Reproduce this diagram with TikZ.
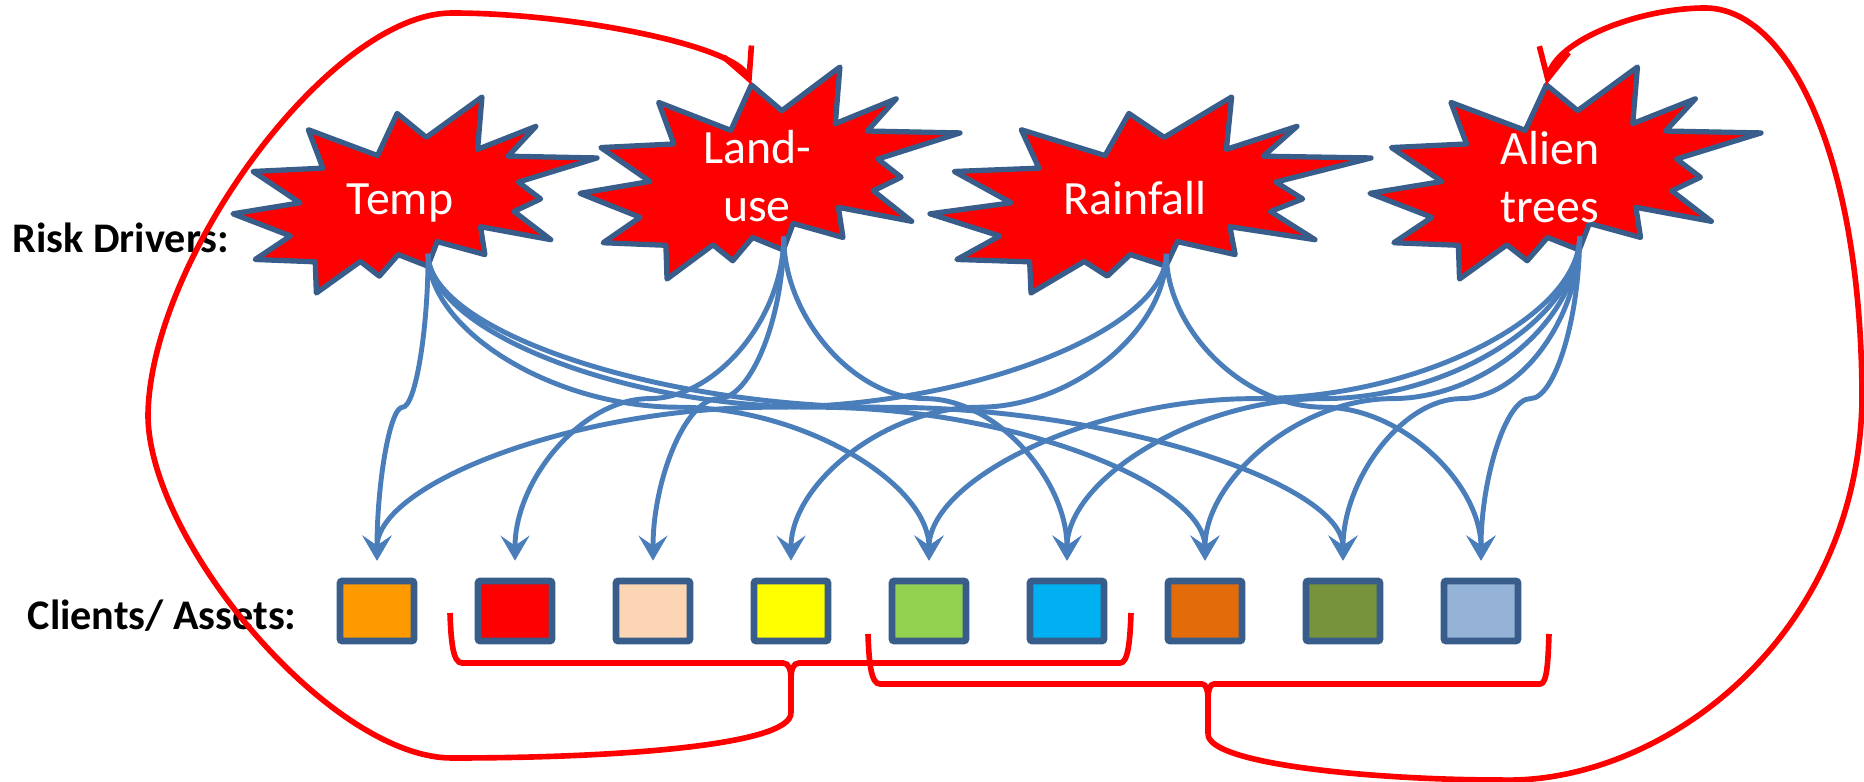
\documentclass[tikz,border=0pt]{standalone}
\usepackage{fontspec}
\setmainfont{Carlito}
\usepackage{xcolor}
\usepackage{tikz}
\usetikzlibrary{calc,arrows.meta}

\definecolor{linkblue}{HTML}{4A7EBB}
\definecolor{edgeblue}{HTML}{385D8A}
\definecolor{assetA}{HTML}{FF9900}
\definecolor{assetB}{HTML}{FF0000}
\definecolor{assetC}{HTML}{FCD5B5}
\definecolor{assetD}{HTML}{FFFF00}
\definecolor{assetE}{HTML}{92D050}
\definecolor{assetF}{HTML}{00B0F0}
\definecolor{assetG}{HTML}{E36C0A}
\definecolor{assetH}{HTML}{77933C}
\definecolor{assetI}{HTML}{95B3D7}

\tikzset{
  % explosion outline, unit box, origin at top left
  burst/.pic={
    \draw[burstline] (0.207,-0.167) -- (0.397,-0.299) -- (0.451,-0.084) -- (0.531,-0.206)
      -- (0.684,0) -- (0.672,-0.267) -- (0.832,-0.150) -- (0.756,-0.302)
      -- (1,-0.311) -- (0.784,-0.434) -- (0.845,-0.520) -- (0.772,-0.584)
      -- (0.873,-0.728) -- (0.680,-0.662) -- (0.692,-0.804) -- (0.561,-0.738)
      -- (0.535,-0.863) -- (0.454,-0.804) -- (0.402,-0.914) -- (0.350,-0.839)
      -- (0.229,-1) -- (0.226,-0.841) -- (0.061,-0.829) -- (0.158,-0.709)
      -- (0,-0.596) -- (0.184,-0.540) -- (0.055,-0.380) -- (0.247,-0.363) -- cycle;
    \coordinate (-out) at (0.536,-0.80);
    \coordinate (-tip) at (0.451,-0.084);
  },
  % down, across at half height, down again
  curvy/.style={to path={
    let \p1=(\tikztostart), \p2=($(\tikztotarget)+(0,1.7mm)$) in
    .. controls (\x1,{(3*\y1+\y2)/4}) and ({(3*\x1+\x2)/4},{(\y1+\y2)/2})
    .. ({(\x1+\x2)/2},{(\y1+\y2)/2})
    .. controls ({(\x1+3*\x2)/4},{(\y1+\y2)/2}) and (\x2,{(\y1+3*\y2)/4})
    .. (\p2) \tikztonodes}}
}

\begin{document}
\begin{tikzpicture}[
  burstline/.style={draw=edgeblue, fill=red, line width=1.5pt, line join=round},
  drivertext/.style={text=white, font=\fontsize{13.6}{16.5}\selectfont, inner sep=0pt, align=center},
  rowlabel/.style={font=\bfseries\fontsize{12}{14}\selectfont, inner sep=0pt},
  asset/.style={draw=edgeblue, line width=1.9pt, minimum width=0.74cm, minimum height=0.6cm, inner sep=0pt, rounded corners=0.6pt},
  link/.style={draw=linkblue, line width=1.4pt, -{Stealth[length=2.5mm,width=2.9mm,inset=1mm]}, curvy},
  backloop/.style={draw=red, line width=1.6pt, -{Straight Barb[length=3mm,width=3mm]}},
  redbrace/.style={draw=red, line width=1.6pt}
]
  \useasboundingbox (0,0) rectangle (18.64,7.82);

  % Row labels
  \node[rowlabel, anchor=base west] (drivers) at (0.12,5.29) {Risk Drivers:};
  \node[rowlabel, anchor=base west] (assets) at (0.27,1.52) {Clients/ Assets:};

  % Risk drivers
  \pic[xscale=3.64, yscale=1.96] (temp) at (2.33,6.85) {burst};
  \pic[xscale=3.80, yscale=2.12] (landuse) at (5.80,7.15) {burst};
  \pic[xscale=4.41, yscale=1.96] (rainfall) at (9.30,6.85) {burst};
  \pic[xscale=3.91, yscale=2.12] (alien) at (13.70,7.15) {burst};
  \node[drivertext, anchor=base] (templabel) at (4.00,5.67) {Temp};
  \node[drivertext] (landuselabel) at (7.57,6.06) {Land-\\use};
  \node[drivertext, anchor=base] (rainfalllabel) at (11.35,5.67) {Rainfall};
  \node[drivertext] (alienlabel) at (15.50,6.05) {Alien\\trees};

  % Clients / assets
  \node[asset, fill=assetA] (a1) at (3.77,1.71) {};
  \node[asset, fill=assetB] (a2) at (5.15,1.71) {};
  \node[asset, fill=assetC] (a3) at (6.53,1.71) {};
  \node[asset, fill=assetD] (a4) at (7.91,1.71) {};
  \node[asset, fill=assetE] (a5) at (9.29,1.71) {};
  \node[asset, fill=assetF] (a6) at (10.67,1.71) {};
  \node[asset, fill=assetG] (a7) at (12.05,1.71) {};
  \node[asset, fill=assetH] (a8) at (13.43,1.71) {};
  \node[asset, fill=assetI] (a9) at (14.81,1.71) {};

  % Temp
  \draw[link] (temp-out) to (a1.north);
  \draw[link] (temp-out) to (a5.north);
  \draw[link] (temp-out) to (a7.north);
  \draw[link] (temp-out) to (a8.north);
  % Land-use
  \draw[link] (landuse-out) to (a2.north);
  \draw[link] (landuse-out) to (a3.north);
  \draw[link] (landuse-out) to (a6.north);
  % Rainfall
  \draw[link] (rainfall-out) to (a1.north);
  \draw[link] (rainfall-out) to (a4.north);
  \draw[link] (rainfall-out) to (a9.north);
  % Alien trees
  \draw[link] (alien-out) to (a5.north);
  \draw[link] (alien-out) to (a6.north);
  \draw[link] (alien-out) to (a7.north);
  \draw[link] (alien-out) to (a8.north);
  \draw[link] (alien-out) to (a9.north);

  % Brackets under the assets
  \coordinate (brace1) at (7.91,0.69);
  \coordinate (brace2) at (12.08,0.48);
  \draw[redbrace] (4.50,1.69) .. controls (4.51,1.40) and (4.53,1.19) .. (4.62,1.19) -- (7.83,1.19)
    .. controls (7.89,1.19) and (7.91,1.12) .. (7.91,1.02) -- (brace1);
  \draw[redbrace] (7.91,1.02) .. controls (7.91,1.12) and (7.93,1.19) .. (7.99,1.19) -- (11.20,1.19)
    .. controls (11.28,1.19) and (11.30,1.40) .. (11.31,1.69);
  \draw[redbrace] (8.68,1.48) .. controls (8.69,1.19) and (8.71,0.98) .. (8.80,0.98) -- (12.02,0.98)
    .. controls (12.06,0.98) and (12.08,0.92) .. (12.08,0.82) -- (brace2);
  \draw[redbrace] (12.08,0.82) .. controls (12.08,0.92) and (12.10,0.98) .. (12.14,0.98) -- (15.40,0.98)
    .. controls (15.47,0.98) and (15.48,1.19) .. (15.49,1.48);

  % Feedback loops
  \draw[backloop] (brace1) .. controls (7.91,0.37) and (6.20,0.24) .. (4.52,0.24)
    .. controls (3.30,0.24) and (1.48,2.42) .. (1.48,3.67)
    .. controls (1.50,5.22) and (3.30,7.69) .. (4.52,7.69)
    .. controls (5.70,7.69) and (7.35,7.37) .. (landuse-tip);
  \draw[backloop] (brace2) .. controls (12.08,0.17) and (13.80,0.02) .. (15.00,0.02)
    .. controls (16.60,-0.03) and (18.58,1.42) .. (18.62,3.82)
    .. controls (18.62,6.22) and (17.90,7.74) .. (17.05,7.74)
    .. controls (16.40,7.74) and (15.56,7.42) .. (alien-tip);
\end{tikzpicture}
\end{document}
